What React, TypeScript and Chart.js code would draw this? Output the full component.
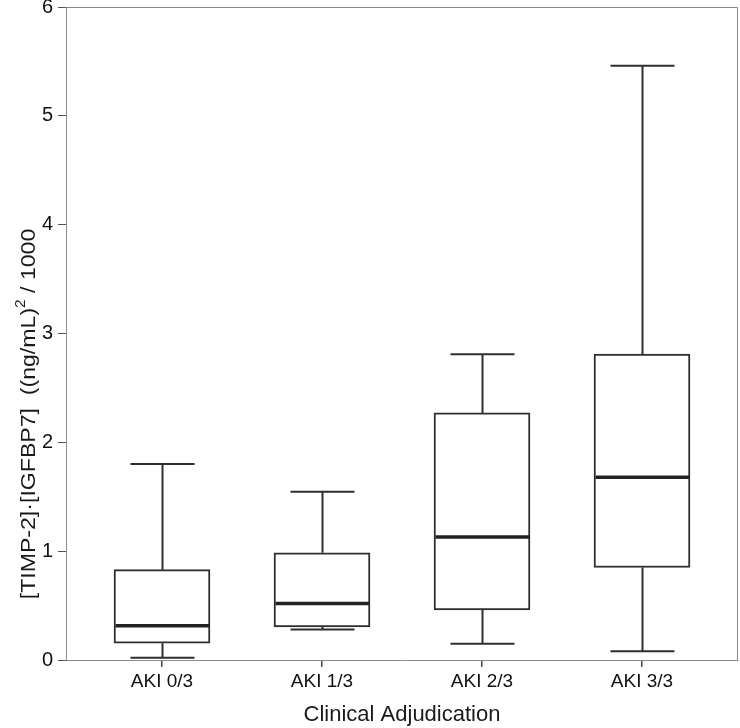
import React, { useEffect, useRef } from "react";
import { Chart, registerables } from "chart.js";

Chart.register(...registerables);

// ---- data ----
const categories = ["AKI 0/3", "AKI 1/3", "AKI 2/3", "AKI 3/3"];
const whiskerLow = [0.02, 0.28, 0.15, 0.08];
const quartile1 = [0.155, 0.305, 0.46, 0.85];
const medians = [0.315, 0.52, 1.13, 1.68];
const quartile3 = [0.83, 0.985, 2.27, 2.81];
const whiskerHigh = [1.8, 1.547, 2.81, 5.46];
const yTickValues = [0, 1, 2, 3, 4, 5, 6];
const xAxisTitle = "Clinical Adjudication";
const yTitleMain = "[TIMP-2]·[IGFBP7]  ((ng/mL)";
const yTitleSup = "2";
const yTitleEnd = " / 1000";

const FONT = "'Liberation Sans', Arial, Helvetica, sans-serif";
const LINE = "#2e2e2e";
const FRAME = "#8c8c8c";

const boxPlotPlugin = {
  id: "boxWhiskers",
  afterDatasetsDraw(chart: any) {
    const { ctx, scales } = chart;
    const x = scales.x;
    const y = scales.y;
    const boxHalf = 48;
    const capHalf = 32;
    ctx.save();
    ctx.strokeStyle = LINE;
    ctx.lineCap = "butt";
    categories.forEach((_, i) => {
      const cx = Math.round(x.getPixelForValue(i)) + 0.5;
      const yHi = y.getPixelForValue(whiskerHigh[i]);
      const yQ3 = y.getPixelForValue(quartile3[i]);
      const yQ1 = y.getPixelForValue(quartile1[i]);
      const yLo = y.getPixelForValue(whiskerLow[i]);
      const yMed = y.getPixelForValue(medians[i]);
      ctx.lineWidth = 2;
      ctx.strokeStyle = LINE;
      ctx.beginPath();
      ctx.moveTo(cx, yHi);
      ctx.lineTo(cx, yQ3);
      ctx.moveTo(cx, yQ1);
      ctx.lineTo(cx, yLo);
      ctx.moveTo(cx - capHalf, yHi);
      ctx.lineTo(cx + capHalf, yHi);
      ctx.moveTo(cx - capHalf, yLo);
      ctx.lineTo(cx + capHalf, yLo);
      ctx.stroke();
      ctx.lineWidth = 3.5;
      ctx.strokeStyle = "#222";
      ctx.beginPath();
      ctx.moveTo(cx - boxHalf + 1, yMed);
      ctx.lineTo(cx + boxHalf - 1, yMed);
      ctx.stroke();
    });
    ctx.restore();
  },
  afterDraw(chart: any) {
    const { ctx, chartArea } = chart;
    ctx.save();
    // frame top & right
    ctx.strokeStyle = FRAME;
    ctx.lineWidth = 1;
    ctx.beginPath();
    ctx.moveTo(Math.round(chartArea.left) + 0.5, Math.round(chartArea.top) + 0.5);
    ctx.lineTo(Math.round(chartArea.right) - 0.5, Math.round(chartArea.top) + 0.5);
    ctx.lineTo(Math.round(chartArea.right) - 0.5, Math.round(chartArea.bottom) + 0.5);
    ctx.stroke();
    ctx.restore();

    // rotated y-axis title with superscript
    ctx.save();
    const size = 21;
    ctx.fillStyle = "#1a1a1a";
    ctx.textBaseline = "middle";
    ctx.textAlign = "left";
    ctx.font = `${size}px ${FONT}`;
    const w1 = ctx.measureText(yTitleMain).width;
    const w3 = ctx.measureText(yTitleEnd).width;
    ctx.font = `${Math.round(size * 0.65)}px ${FONT}`;
    const w2 = ctx.measureText(yTitleSup).width;
    const total = w1 + w2 + w3;
    ctx.translate(29, 414);
    ctx.rotate(-Math.PI / 2);
    ctx.scale(1.1, 1);
    let px = -total / 2;
    ctx.font = `${size}px ${FONT}`;
    ctx.fillText(yTitleMain, px, 0);
    px += w1;
    ctx.font = `${Math.round(size * 0.65)}px ${FONT}`;
    ctx.fillText(yTitleSup, px, -size * 0.38);
    px += w2;
    ctx.font = `${size}px ${FONT}`;
    ctx.fillText(yTitleEnd, px, 0);
    ctx.restore();
  },
};

export default function App() {
  const canvasRef = useRef<HTMLCanvasElement | null>(null);

  useEffect(() => {
    if (!canvasRef.current) return;
    const chart = new Chart(canvasRef.current, {
      type: "bar",
      data: {
        datasets: [
          {
            label: "IQR",
            data: categories.map((_, i) => ({ x: i, y: [quartile1[i], quartile3[i]] })) as any,
            backgroundColor: "#ffffff",
            borderColor: LINE,
            borderWidth: 2,
            borderSkipped: false,
            barThickness: 96,
          },
        ],
      },
      options: {
        animation: false,
        responsive: true,
        maintainAspectRatio: false,
        layout: { padding: { top: 7, right: 2, left: 0, bottom: 0 } },
        plugins: {
          legend: { display: false },
          tooltip: { enabled: false },
          title: { display: false },
        },
        scales: {
          x: {
            type: "linear",
            min: -0.6,
            max: 3.6,
            offset: false,
            afterBuildTicks: (s: any) => {
              s.ticks = categories.map((_, i) => ({ value: i }));
            },
            afterFit: (s: any) => {
              s.height = 68;
              s.paddingLeft = 0;
              s.paddingRight = 0;
            },
            ticks: {
              callback: (v: any) => categories[v] ?? "",
              font: { family: FONT, size: 19 },
              color: "#111",
              padding: 3,
              maxRotation: 0,
              autoSkip: false,
            },
            grid: {
              display: true,
              offset: false,
              drawOnChartArea: false,
              drawTicks: true,
              tickLength: 7,
              color: "#444",
              lineWidth: 1.5,
            },
            border: { display: true, color: FRAME, width: 1 },
            title: {
              display: true,
              text: xAxisTitle,
              font: { family: FONT, size: 22 },
              color: "#1a1a1a",
              padding: { top: 0, bottom: 0 },
            },
          },
          y: {
            type: "linear",
            min: 0,
            max: 6,
            afterBuildTicks: (s: any) => {
              s.ticks = yTickValues.map((v) => ({ value: v }));
            },
            afterFit: (s: any) => {
              s.width = 66;
              s.paddingTop = 0;
              s.paddingBottom = 0;
            },
            ticks: {
              font: { family: FONT, size: 20 },
              color: "#111",
              padding: 5,
            },
            grid: {
              display: true,
              drawOnChartArea: false,
              drawTicks: true,
              tickLength: 8,
              color: "#555",
              lineWidth: 1,
            },
            border: { display: true, color: FRAME, width: 1 },
          },
        },
      },
      plugins: [boxPlotPlugin],
    });
    return () => chart.destroy();
  }, []);

  return (
    <div style={{ position: "fixed", left: 0, top: 0, width: 740, height: 728, background: "#fff" }}>
      <canvas ref={canvasRef} />
    </div>
  );
}
